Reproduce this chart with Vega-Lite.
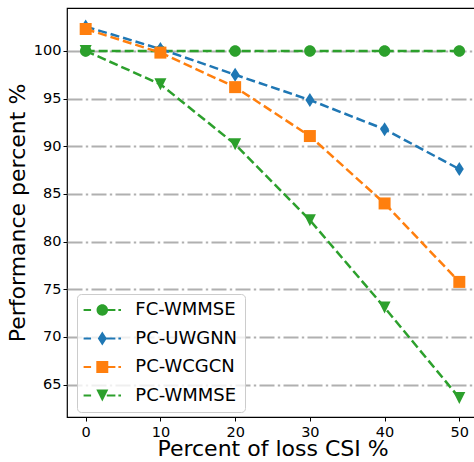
{
  "$schema": "https://vega.github.io/schema/vega-lite/v6.json",
  "autosize": "none",
  "padding": {"left": 67, "top": 8, "right": 0, "bottom": 45},
  "width": 411,
  "height": 409,
  "config": {
    "font": "DejaVu Sans",
    "view": {"stroke": "black", "strokeWidth": 1.2},
    "axis": {"domain": false, "tickColor": "black", "tickWidth": 1, "tickSize": 4, "labelColor": "black", "titleColor": "black", "labelFontSize": 14.5, "titleFontSize": 22, "titleFontWeight": "normal", "labelFont": "DejaVu Sans", "titleFont": "DejaVu Sans"}
  },
  "data": {
    "values": [
      {"series": "FC-WMMSE", "loss": 0, "perf": 100},
      {"series": "FC-WMMSE", "loss": 10, "perf": 100},
      {"series": "FC-WMMSE", "loss": 20, "perf": 100},
      {"series": "FC-WMMSE", "loss": 30, "perf": 100},
      {"series": "FC-WMMSE", "loss": 40, "perf": 100},
      {"series": "FC-WMMSE", "loss": 50, "perf": 100},
      {"series": "PC-UWGNN", "loss": 0, "perf": 102.55},
      {"series": "PC-UWGNN", "loss": 10, "perf": 100.2},
      {"series": "PC-UWGNN", "loss": 20, "perf": 97.5},
      {"series": "PC-UWGNN", "loss": 30, "perf": 94.85},
      {"series": "PC-UWGNN", "loss": 40, "perf": 91.78},
      {"series": "PC-UWGNN", "loss": 50, "perf": 87.6},
      {"series": "PC-WCGCN", "loss": 0, "perf": 102.3},
      {"series": "PC-WCGCN", "loss": 10, "perf": 99.82},
      {"series": "PC-WCGCN", "loss": 20, "perf": 96.2},
      {"series": "PC-WCGCN", "loss": 30, "perf": 91.07},
      {"series": "PC-WCGCN", "loss": 40, "perf": 84.0},
      {"series": "PC-WCGCN", "loss": 50, "perf": 75.77},
      {"series": "PC-WMMSE", "loss": 0, "perf": 100},
      {"series": "PC-WMMSE", "loss": 10, "perf": 96.5},
      {"series": "PC-WMMSE", "loss": 20, "perf": 90.2},
      {"series": "PC-WMMSE", "loss": 30, "perf": 82.25},
      {"series": "PC-WMMSE", "loss": 40, "perf": 73.08},
      {"series": "PC-WMMSE", "loss": 50, "perf": 63.6}
    ]
  },
  "encoding": {
    "x": {"field": "loss", "type": "quantitative", "scale": {"domain": [-2.5, 52.5], "nice": false, "zero": false},
      "axis": {"values": [0, 10, 20, 30, 40, 50], "grid": false, "title": "Percent of loss CSI %", "labelPadding": 4, "titlePadding": 0}},
    "y": {"field": "perf", "type": "quantitative", "scale": {"domain": [61.6, 104.5], "nice": false, "zero": false},
      "axis": {"values": [65, 70, 75, 80, 85, 90, 95, 100], "grid": true, "gridColor": "#b0b0b0", "gridWidth": 2, "gridDash": [15, 3.3, 2.4, 3.3], "title": "Performance percent %", "labelPadding": 2, "titlePadding": 4}},
    "color": {"field": "series", "type": "nominal",
      "scale": {"domain": ["FC-WMMSE", "PC-UWGNN", "PC-WCGCN", "PC-WMMSE"], "range": ["#2ca02c", "#1f77b4", "#ff7f0e", "#2ca02c"]},
      "legend": {
        "title": null, "orient": "none", "legendX": 10, "legendY": 286,
        "labelFontSize": 18, "labelFont": "DejaVu Sans", "labelColor": "black",
        "symbolSize": 324, "symbolOffset": 9.3, "labelOffset": 24, "rowPadding": 10.5, "padding": 7,
        "fillColor": "rgba(255,255,255,0.8)", "strokeColor": "#cccccc", "cornerRadius": 4,
        "encode": {"symbols": {"update": {
          "shape": {"signal": "datum.value === 'FC-WMMSE' ? 'M-2.078,-0.12H-1.247V0.12H-2.078ZM0.5,-0.12H1.455V0.12H0.5ZM1.787,-0.12H2.078V0.12H1.787ZM-0.638,0A0.638,0.638 0 1,1 0.638,0A0.638,0.638 0 1,1 -0.638,0Z' : datum.value === 'PC-UWGNN' ? 'M-2.078,-0.12H-1.247V0.12H-2.078ZM0.42,-0.12H1.455V0.12H0.42ZM1.787,-0.12H2.078V0.12H1.787ZM0,-0.777L0.499,0L0,0.777L-0.499,0Z' : datum.value === 'PC-WCGCN' ? 'M-2.078,-0.12H-1.247V0.12H-2.078ZM0.5,-0.12H1.455V0.12H0.5ZM1.787,-0.12H2.078V0.12H1.787ZM-0.665,-0.665H0.665V0.665H-0.665Z' : 'M-2.078,-0.12H-1.247V0.12H-2.078ZM0.5,-0.12H1.455V0.12H0.5ZM1.787,-0.12H2.078V0.12H1.787ZM-0.665,-0.665H0.665L0,0.665Z'"},
          "size": {"value": 324},
          "fill": {"scale": "color", "field": "value"},
          "fillOpacity": {"value": 1},
          "strokeWidth": {"value": 0},
          "opacity": {"value": 1}
        }}}
      }}
  },
  "layer": [
    {"mark": {"type": "line", "strokeWidth": 2.5, "strokeDash": [9, 4]}},
    {"transform": [{"filter": "datum.series === 'FC-WMMSE'"}],
     "mark": {"type": "point", "filled": true, "opacity": 1, "size": 196, "strokeWidth": 0, "shape": "M-0.82,0A0.82,0.82 0 1,1 0.82,0A0.82,0.82 0 1,1 -0.82,0Z"}},
    {"transform": [{"filter": "datum.series === 'PC-UWGNN'"}],
     "mark": {"type": "point", "filled": true, "opacity": 1, "size": 196, "strokeWidth": 0, "shape": "M0,-1L0.64,0L0,1L-0.64,0Z"}},
    {"transform": [{"filter": "datum.series === 'PC-WCGCN'"}],
     "mark": {"type": "point", "filled": true, "opacity": 1, "size": 196, "strokeWidth": 0, "shape": "M-0.857,-0.857H0.857V0.857H-0.857Z"}},
    {"transform": [{"filter": "datum.series === 'PC-WMMSE'"}],
     "mark": {"type": "point", "filled": true, "opacity": 1, "size": 196, "strokeWidth": 0, "shape": "M-0.857,-0.857H0.857L0,0.857Z"}}
  ]
}
